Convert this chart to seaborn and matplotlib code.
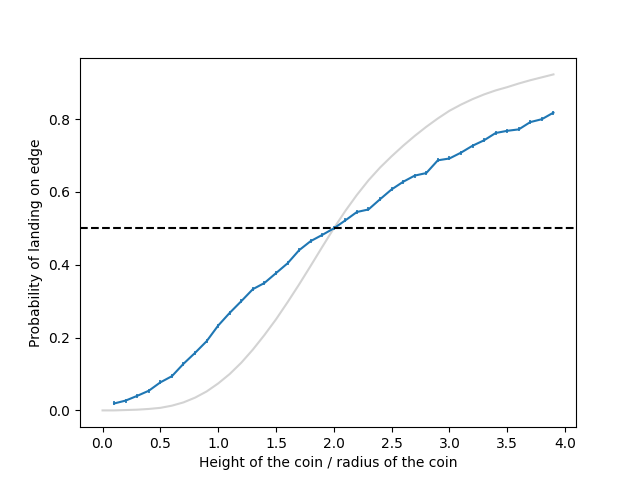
import matplotlib
matplotlib.use("Agg")
import matplotlib.pyplot as plt
import seaborn as sns
import numpy as np

# Simulated probability (blue)
sim_ratio = [0.1, 0.2, 0.3, 0.4, 0.5, 0.6, 0.7, 0.8, 0.9, 1.0,
             1.1, 1.2, 1.3, 1.4, 1.5, 1.6, 1.7, 1.8, 1.9, 2.0,
             2.1, 2.2, 2.3, 2.4, 2.5, 2.6, 2.7, 2.8, 2.9, 3.0,
             3.1, 3.2, 3.3, 3.4, 3.5, 3.6, 3.7, 3.8, 3.9]
sim_prob = [0.019, 0.027, 0.040, 0.054, 0.077, 0.094, 0.128, 0.158, 0.190, 0.233,
            0.268, 0.300, 0.333, 0.350, 0.377, 0.404, 0.440, 0.465, 0.482, 0.500,
            0.522, 0.545, 0.552, 0.580, 0.607, 0.628, 0.645, 0.652, 0.687, 0.692,
            0.708, 0.727, 0.742, 0.762, 0.768, 0.772, 0.792, 0.800, 0.818]

# Theoretical curve (gray)
th_ratio = [0.0, 0.1, 0.2, 0.3, 0.4, 0.5, 0.6, 0.7, 0.8, 0.9, 1.0,
            1.1, 1.2, 1.3, 1.4, 1.5, 1.6, 1.7, 1.8, 1.9, 2.0,
            2.1, 2.2, 2.3, 2.4, 2.5, 2.6, 2.7, 2.8, 2.9, 3.0,
            3.1, 3.2, 3.3, 3.4, 3.5, 3.6, 3.7, 3.8, 3.9]
th_prob = [0.000, 0.000, 0.001, 0.002, 0.004, 0.007, 0.013, 0.022, 0.035, 0.052, 0.074,
           0.100, 0.131, 0.167, 0.207, 0.250, 0.297, 0.346, 0.397, 0.449, 0.500,
           0.548, 0.592, 0.632, 0.667, 0.698, 0.727, 0.754, 0.779, 0.802, 0.823,
           0.840, 0.855, 0.868, 0.879, 0.888, 0.898, 0.907, 0.915, 0.923]

threshold = 0.5
blue = "#1f77b4"

fig, ax = plt.subplots(figsize=(6.4, 4.8), dpi=100)
sns.lineplot(x=th_ratio, y=th_prob, ax=ax, color="lightgray", linewidth=1.5)
sns.lineplot(x=sim_ratio, y=sim_prob, ax=ax, color=blue, linewidth=1.5,
             marker="|", markersize=3, markeredgewidth=1.2,
             markeredgecolor=blue, markerfacecolor=blue)
ax.axhline(threshold, color="black", linestyle="--", linewidth=1.5)
ax.set_xlabel("Height of the coin / radius of the coin")
ax.set_ylabel("Probability of landing on edge")
fig.savefig("out.png", dpi=100)
